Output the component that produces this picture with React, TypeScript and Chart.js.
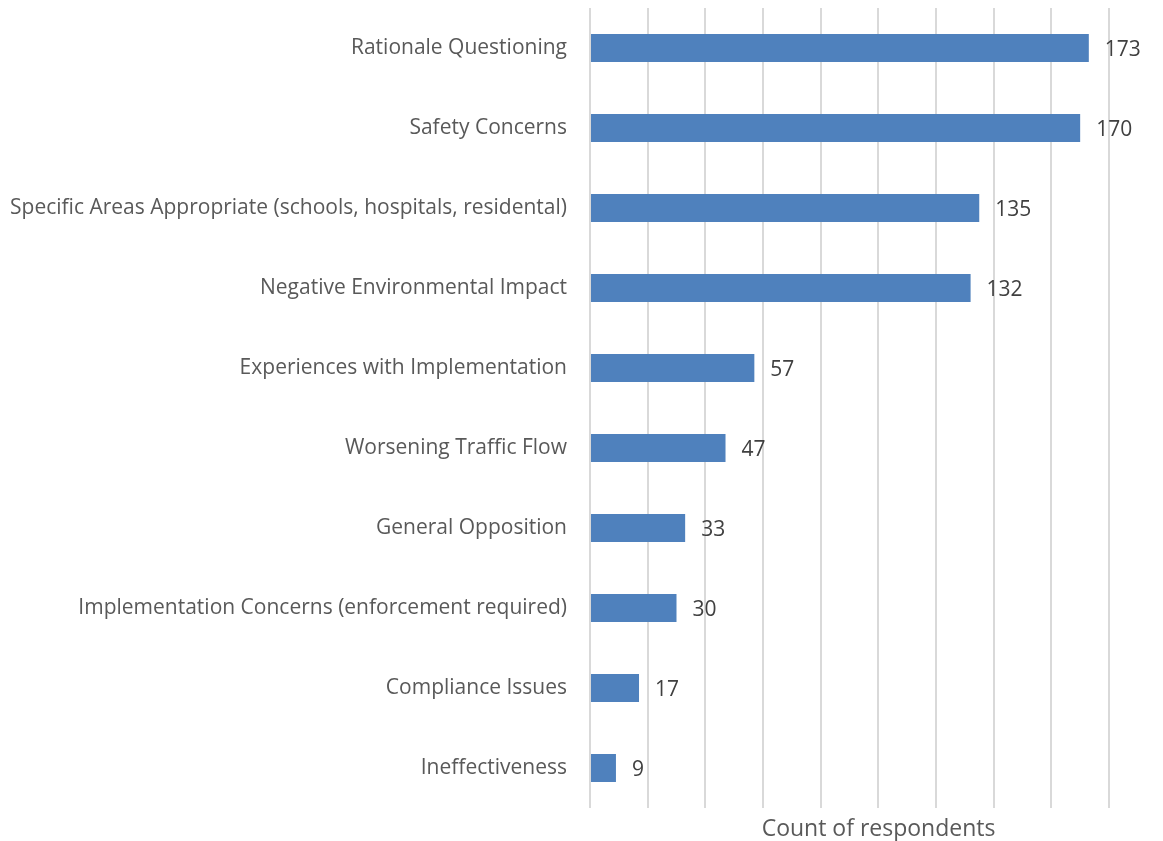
import React, { useEffect, useRef } from "react";
import { Chart, registerables } from "chart.js";

Chart.register(...registerables);

const categories = [
  "Rationale Questioning",
  "Safety Concerns",
  "Specific Areas Appropriate (schools, hospitals, residental)",
  "Negative Environmental Impact",
  "Experiences with Implementation",
  "Worsening Traffic Flow",
  "General Opposition",
  "Implementation Concerns (enforcement required)",
  "Compliance Issues",
  "Ineffectiveness",
];
const counts = [173, 170, 135, 132, 57, 47, 33, 30, 17, 9];
const axisTitle = "Count of respondents";
const xMax = 180;
const xStep = 20;

const FONT = "'Open Sans', 'Liberation Sans', sans-serif";

export default function App() {
  const ref = useRef<HTMLCanvasElement | null>(null);
  useEffect(() => {
    if (!ref.current) return;
    const labelPlugin = {
      id: "valueLabels",
      afterDatasetsDraw(chart: any) {
        const ctx = chart.ctx;
        const meta = chart.getDatasetMeta(0);
        ctx.save();
        ctx.font = `21px ${FONT}`;
        ctx.fillStyle = "#404040";
        ctx.textAlign = "left";
        ctx.textBaseline = "middle";
        meta.data.forEach((el: any, i: number) => {
          ctx.fillText(String(counts[i]), el.x + 16, el.y + 2);
        });
        const area = chart.chartArea;
        ctx.fillStyle = "#595959";
        ctx.font = `23px ${FONT}`;
        ctx.textAlign = "center";
        ctx.fillText(axisTitle, area.left + (area.right - area.left) * 0.556, area.bottom + 21);
        ctx.restore();
      },
    };
    const chart = new Chart(ref.current, {
      type: "bar",
      data: {
        labels: categories,
        datasets: [
          {
            data: counts,
            backgroundColor: "#4f81bd",
            borderWidth: 0,
            barPercentage: 0.35,
            categoryPercentage: 1,
          },
        ],
      },
      options: {
        indexAxis: "y",
        animation: false,
        responsive: false,
        maintainAspectRatio: false,
        layout: { padding: { top: 8, right: 54, left: 0, bottom: 0 } },
        plugins: {
          legend: { display: false },
          tooltip: { enabled: false },
        },
        scales: {
          x: {
            min: 0,
            max: xMax,
            ticks: { display: false, stepSize: xStep },
            border: { display: false },
            grid: { color: "#d9d9d9", lineWidth: 2, drawTicks: false },
            afterFit: (s: any) => {
              s.height = 33;
              s.paddingLeft = 0;
              s.paddingRight = 0;
            },
          },
          y: {
            ticks: {
              color: "#595959",
              font: { family: FONT, size: 21, lineHeight: 1.0 },
              padding: 23,
            },
            grid: { display: false, drawTicks: false },
            border: { display: false },
            afterFit: (s: any) => {
              s.width = 590;
              s.paddingTop = 0;
              s.paddingBottom = 0;
            },
          },
        },
      },
      plugins: [labelPlugin],
    });
    return () => chart.destroy();
  }, []);
  return (
    <div style={{ position: "fixed", left: 0, top: 0, width: 1163, height: 841, background: "#fff" }}>
      <canvas ref={ref} width={1163} height={841} style={{ display: "block" }} />
    </div>
  );
}
